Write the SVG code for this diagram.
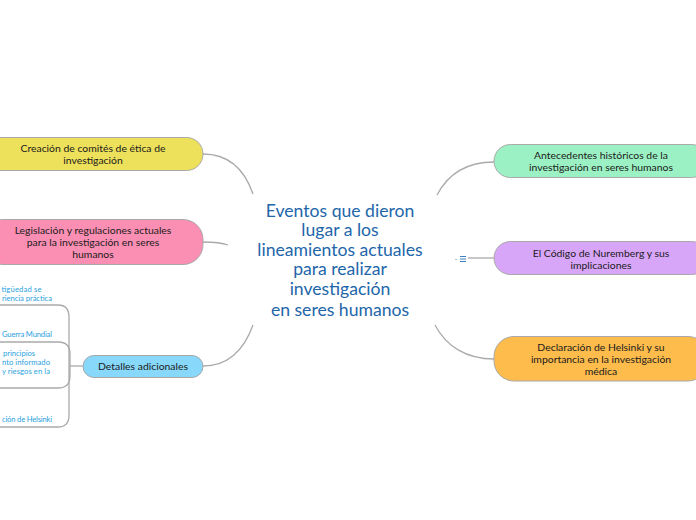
<svg xmlns="http://www.w3.org/2000/svg" width="696" height="520" viewBox="0 0 696 520">
<style>
.node{stroke:#a9a9a9;stroke-width:1}
.nt{font-family:Lato,"Noto Sans",sans-serif;font-size:10.4px;fill:#1a1a1a;text-anchor:middle}
.ct{font-family:Lato,"Noto Sans",sans-serif;font-size:17.6px;fill:#2266aa;text-anchor:middle}
.st{font-family:Lato,"Noto Sans",sans-serif;font-size:7.6px;fill:#2aa2de;text-anchor:start}
.conn{fill:none;stroke:#aaaaaa;stroke-width:1.3}
</style>
<rect width="696" height="520" fill="#ffffff"/>
<g id="connectors">
<path class="conn" d="M253,194 C244,168 228,154 203,154"/>
<path class="conn" d="M228,245 C220,242 212,242 203,242"/>
<path class="conn" d="M253,325 C244,350 228,366 203,366"/>
<path class="conn" d="M437,195 C447,176 465,162 494,162"/>
<path class="conn" d="M468,258 L494,258"/>
<path class="conn" d="M435,325 C446,346 466,359 494,359"/>
<path class="conn" d="M83,366 L70,366"/>
<path class="conn" d="M0,305 H58 Q69,305 69,317 V366"/>
<path class="conn" d="M0,342 H58 Q70,342 70,354 V366"/>
<path class="conn" d="M0,388 H58 Q70,388 70,376 V366"/>
<path class="conn" d="M0,427 H58 Q69,427 69,415 V366"/>
</g>
<g id="central">
<text class="ct" x="340" y="217">Eventos que dieron</text>
<text class="ct" x="340" y="236">lugar a los</text>
<text class="ct" x="340" y="256">lineamientos actuales</text>
<text class="ct" x="340" y="275">para realizar</text>
<text class="ct" x="340" y="295">investigación</text>
<text class="ct" x="340" y="316">en seres humanos</text>
</g>
<g id="node-creacion">
<rect class="node" x="-17" y="137.5" width="220" height="33" rx="16.5" fill="#ede05b"/>
<text class="nt" x="93" y="151.5">Creación de comités de ética de</text>
<text class="nt" x="93" y="164">investigación</text>
</g>
<g id="node-legislacion">
<rect class="node" x="-17" y="219.5" width="220" height="45" rx="20" fill="#fb8fb3"/>
<text class="nt" x="93" y="234">Legislación y regulaciones actuales</text>
<text class="nt" x="93" y="246">para la investigación en seres</text>
<text class="nt" x="93" y="258">humanos</text>
</g>
<g id="node-detalles">
<rect class="node" x="83" y="355.5" width="120" height="22" rx="11" fill="#88d8fb"/>
<text class="nt" x="143" y="369.5">Detalles adicionales</text>
</g>
<g id="subtopics">
<text class="st" x="1.5" y="291.5" textLength="40">tigüedad se</text>
<text class="st" x="2" y="300.5" textLength="50">riencia práctica</text>
<text class="st" x="2" y="336.5" textLength="50">Guerra Mundial</text>
<text class="st" x="3" y="356" textLength="32">principios</text>
<text class="st" x="2" y="365" textLength="48">nto informado</text>
<text class="st" x="2" y="374" textLength="48">y riesgos en la</text>
<text class="st" x="2" y="421.5" textLength="50">ción de Helsinki</text>
</g>
<g id="node-antecedentes">
<rect class="node" x="494" y="144.5" width="214" height="33" rx="16.5" fill="#9cf1c4"/>
<text class="nt" x="601" y="159">Antecedentes históricos de la</text>
<text class="nt" x="601" y="171">investigación en seres humanos</text>
</g>
<g id="node-nuremberg">
<rect class="node" x="494" y="241.5" width="214" height="33" rx="16.5" fill="#d8a6f8"/>
<text class="nt" x="601" y="256.5">El Código de Nuremberg y sus</text>
<text class="nt" x="601" y="268.5">implicaciones</text>
<g id="note-icon" stroke="#3a7fc0" stroke-width="1">
<line x1="460" y1="256.5" x2="466" y2="256.5"/>
<line x1="460" y1="259" x2="466" y2="259"/>
<line x1="460" y1="261.5" x2="466" y2="261.5"/>
</g>
<circle cx="456" cy="259.5" r="0.6" fill="#3a7fc0"/>
</g>
<g id="node-helsinki">
<rect class="node" x="494" y="336.5" width="214" height="44.5" rx="20" fill="#fdbc4c"/>
<text class="nt" x="601" y="350.5">Declaración de Helsinki y su</text>
<text class="nt" x="601" y="362.5">importancia en la investigación</text>
<text class="nt" x="601" y="374.5">médica</text>
</g>
</svg>
